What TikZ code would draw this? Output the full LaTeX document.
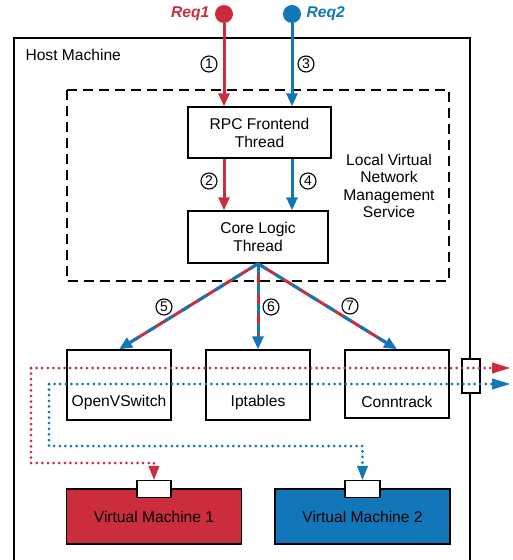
\documentclass[tikz,border=0pt]{standalone}
\usepackage{fontspec}
\setmainfont{Liberation Sans}
\usetikzlibrary{arrows.meta}
\definecolor{reqred}{HTML}{CB2D3C}
\definecolor{reqblue}{HTML}{1277B8}
\tikzset{
        box/.style={draw, line width=1.4pt, inner sep=0pt},
        num/.style={draw, circle, line width=1.1pt, inner sep=0pt, minimum size=16pt, font=\fontsize{14}{14}\selectfont},
        flow/.style={line width=3pt, -{Triangle[length=13pt,width=11pt]}},
        pkt/.style={line width=3pt, line cap=round, dash pattern=on 0pt off 5.6pt},
        tip/.style={-{Triangle[length=14pt,width=11pt]}},
        longtip/.style={-{Triangle[length=18pt,width=11pt]}},
}
\begin{document}
\begin{tikzpicture}[x=1pt, y=-1pt, font=\fontsize{15.6}{18}\selectfont]
        \useasboundingbox (0,0) rectangle (512,560);
        % host and service frames
        \draw[line width=1.3pt] (14,575) |- (470,38) -- (470,575);
        \node[anchor=west] (host) at (22,55) {Host Machine};
        \draw[line width=1.3pt, dash pattern=on 10pt off 6pt] (67,90) rectangle (449,281);
        \node[align=center, font=\fontsize{15.6}{17.5}\selectfont] (lvnms) at (389,186) {Local Virtual\\Network\\Management\\Service};

        \node (req1) [circle, fill=reqred, minimum size=18pt, inner sep=0pt,
                label={[text=reqred, font=\fontsize{15.6}{18}\selectfont\bfseries\itshape, label distance=2pt]left:Req1}] at (224,14) {};
        \node (req2) [circle, fill=reqblue, minimum size=18pt, inner sep=0pt,
                label={[text=reqblue, font=\fontsize{15.6}{18}\selectfont\bfseries\itshape, label distance=2pt]right:Req2}] at (292,14) {};

        \node (rpc) [box, minimum width=143pt, minimum height=51pt, align=center] at (259.5,132.5) {RPC Frontend\\Thread};
        \node (core) [box, minimum width=140pt, minimum height=52pt, align=center] at (258,237) {Core Logic\\Thread};

        \node (ovs) [box, minimum width=104pt, minimum height=70pt] at (119,385) {};
        \node (ipt) [box, minimum width=104pt, minimum height=70pt] at (258,385) {};
        \node (ct) [box, minimum width=104pt, minimum height=68pt] at (397,384) {};
        \node (ovslbl) at ([yshift=18pt]ovs.south) {OpenVSwitch};
        \node (iptlbl) at ([yshift=18pt]ipt.south) {Iptables};
        \node (ctlbl) at ([yshift=17pt]ct.south) {Conntrack};
        \node (hport) [box, fill=white, minimum width=18pt, minimum height=34pt] at (471,376) {};

        \node (vm1) [box, fill=reqred, minimum width=175pt, minimum height=55pt] at (154,516.5) {Virtual Machine 1};
        \node (vm2) [box, fill=reqblue, minimum width=175pt, minimum height=55pt] at (362.5,516.5) {Virtual Machine 2};
        \node (port1) [box, fill=white, minimum width=34pt, minimum height=17pt] at (154,489) {};
        \node (port2) [box, fill=white, minimum width=35pt, minimum height=17pt] at (362.5,489) {};

        % request paths
        \draw[flow, reqred] (req1) -- (req1 |- rpc.north);
        \draw[flow, reqblue] (req2) -- (req2 |- rpc.north);
        \draw[flow, reqred] (rpc.south -| req1) -- (core.north -| req1);
        \draw[flow, reqblue] (rpc.south -| req2) -- (core.north -| req2);
        \foreach \t in {ovs,ipt,ct} {
                \draw[line width=3pt, reqred, shorten >=10pt] (core.south) -- (\t.north);
                \draw[flow, reqblue, dash pattern=on 10pt off 10pt] (core.south) -- (\t.north);
        }

        \node[num] (n1) at (209,64) {1};
        \node[num] (n3) at (306,64) {3};
        \node[num] (n2) at (209,181) {2};
        \node[num] (n4) at (308,181) {4};
        \node[num] (n5) at (164,307) {5};
        \node[num] (n6) at (271,307) {6};
        \node[num] (n7) at (350,306) {7};

        % packet paths
        \coordinate (r0) at (31,368);
        \coordinate (r1) at (510,368);
        \coordinate (r2) at (31,463);
        \coordinate (b0) at (49,384);
        \coordinate (b1) at (510,384);
        \coordinate (b2) at (49,446);
        \draw[pkt, reqred] (r0) -- ([xshift=-18pt]r1);
        \draw[pkt, reqred] (r0) -- (r2) -| ([yshift=14pt]port1.north);
        \draw[pkt, reqblue] (b0) -- ([xshift=-18pt]b1);
        \draw[pkt, reqblue] (b0) -- (b2) -| ([yshift=14pt]port2.north);
        \draw[longtip, reqred, line width=1pt] ([xshift=-18pt]r1) -- (r1);
        \draw[longtip, reqblue, line width=1pt] ([xshift=-18pt]b1) -- (b1);
        \draw[tip, reqred, line width=1pt] ([yshift=14pt]port1.north) -- (port1.north);
        \draw[tip, reqblue, line width=1pt] ([yshift=14pt]port2.north) -- (port2.north);
\end{tikzpicture}
\end{document}
